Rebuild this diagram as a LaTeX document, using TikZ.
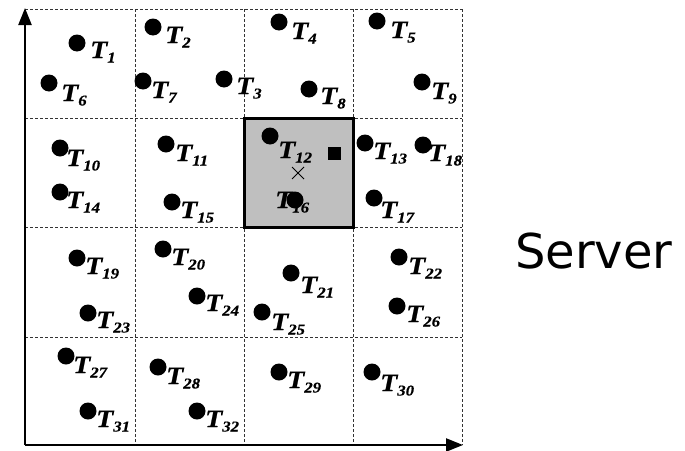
\documentclass[tikz,border=0pt]{standalone}
\usepackage{fontspec}
\setmainfont{Liberation Serif}
\newfontfamily\tfont{Liberation Serif}[FakeBold=0.6]
\newfontfamily\serverfont{DejaVu Sans}
\usetikzlibrary{arrows.meta}
\newcommand{\tlab}[1]{\scalebox{1.12}[1]{\tfont\fontsize{25}{25}\selectfont\bfseries\itshape T\raisebox{-4.5pt}{\fontsize{15}{15}\selectfont #1}}}
\begin{document}
\begin{tikzpicture}[x=1pt,y=-1pt,
  dot/.style={circle,fill=black,inner sep=0pt,minimum size=17pt},
  lab/.style={anchor=base west,inner sep=0pt},
  gridline/.style={dash pattern=on 3pt off 2pt,line width=0.8pt,black!80},
  axis/.style={line width=2.4pt,-{Triangle[length=17pt,width=13pt]}}]
\useasboundingbox (0,0) rectangle (685,450);
% selected cell
\fill[black!25] (244,118) rectangle (353,227);
% grid
\foreach \gx in {135,244,353,462} \draw[gridline] (\gx,9) -- (\gx,445);
\foreach \gy in {9,118,227,337} \draw[gridline] (25,\gy) -- (462,\gy);
\draw[line width=3pt] (244,118) rectangle (353,227);
% axes
\coordinate (o) at (25,445);
\coordinate (ytip) at (25,8);
\coordinate (xtip) at (463,445);
\draw[axis] (o) -- (ytip);
\draw[axis] (o) -- (xtip);
% terminals
\foreach \n/\dx/\dy/\tx/\ty in {
 1/77/43/92/42, 2/153/27/167/27, 3/224/79/238/78, 4/279/22/293/23, 5/377/21/392/22,
 6/49/83/63/85, 7/143/81/153/82, 8/309/89/322/88, 9/422/82/433/83,
 10/60/148/68/150, 11/166/144/177/145, 12/270/136/280/142, 13/365/143/375/143,
 14/60/192/68/192, 15/172/202/182/202, 16/295/200/277/192, 17/374/198/382/202, 18/423/145/430/145,
 19/77/258/87/258, 20/163/249/173/249, 21/291/273/302/277, 22/399/257/410/258,
 23/88/313/98/312, 24/197/296/207/295, 25/262/312/273/314, 26/397/306/408/306,
 27/66/356/75/357, 28/158/367/168/368, 29/279/372/289/372, 30/372/372/382/375,
 31/88/411/98/411, 32/197/411/207/411}{
  \node[lab] (l\n) at (\tx-2,\ty+16) {\tlab{\n}};
  \node[dot] (t\n) at (\dx,\dy) {};
}
% server marker and centre
\node[fill=black,inner sep=0pt,minimum size=13pt] (sq) at (334,153) {};
\coordinate (cx) at (298,173);
\draw[line width=0.8pt] ([shift={(-6,-6)}]cx) -- ([shift={(6,6)}]cx)
  ([shift={(-6,6)}]cx) -- ([shift={(6,-6)}]cx);
\node[font=\serverfont\fontsize{48}{48}\selectfont,anchor=base west,inner sep=0pt] (server) at (515,268) {Server};
\end{tikzpicture}
\end{document}
